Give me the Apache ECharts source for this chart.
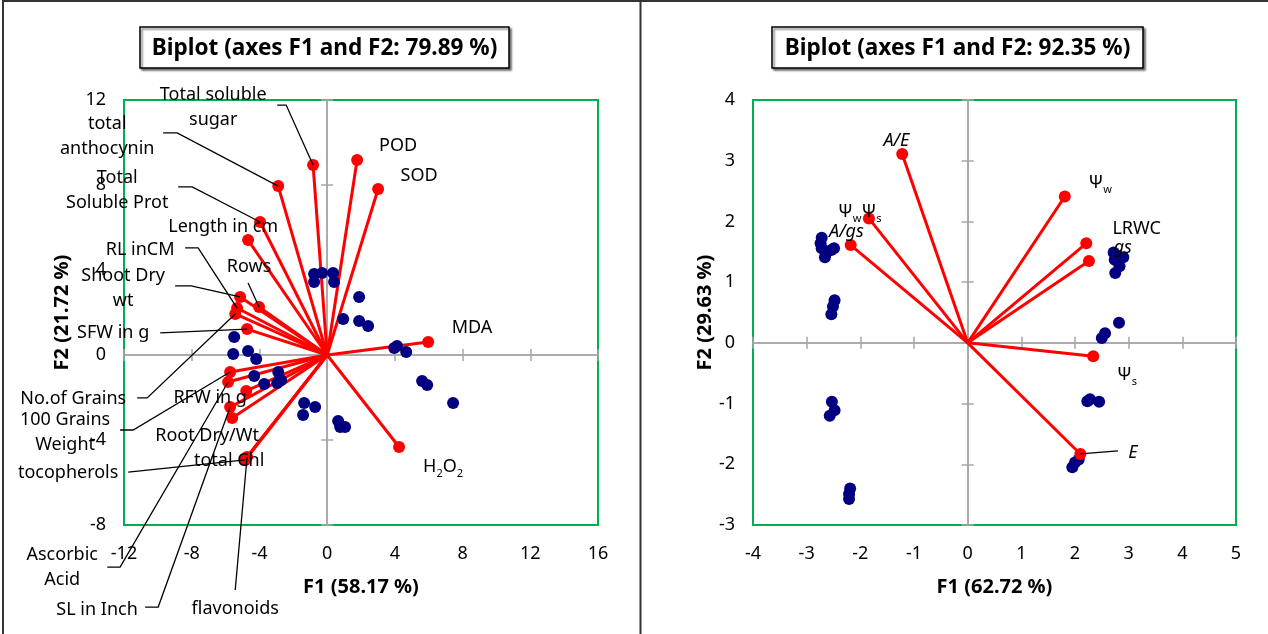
<!DOCTYPE html>
<html>
<head>
<meta charset="utf-8">
<title>biplot</title>
<script src="https://cdn.jsdelivr.net/npm/echarts@6/dist/echarts.min.js"></script>
<style>
    html, body { margin: 0; padding: 0; background: #fff; }
    #main { width: 1268px; height: 634px; }
</style>
</head>
<body>
<div id="main"></div>
<script>
// ---------- left biplot (F1 58.17 %, F2 21.72 %) ----------
var varNamesL = ['Total soluble\nsugar', 'total\nanthocynin', 'Total\nSoluble Prot', 'Length in cm', 'RL inCM',
    'Shoot Dry\nwt', 'Rows', 'SFW in g', 'No.of Grains', '100 Grains\nWeight', 'RFW in g', 'Root Dry/Wt',
    'total Chl', 'tocopherols', 'Ascorbic\nAcid', 'SL in Inch', 'flavonoids', 'POD', 'SOD', 'MDA', 'H{sub|2}O{sub|2}'];
var varF1L = [-0.83, -2.89, -3.96, -4.67, -5.32, -5.14, -4.02, -4.73, -5.43, -5.73, -4.78, -5.61,
    -4.78, -4.84, -5.85, -5.73, -4.73, 1.77, 3.01, 5.97, 4.25];
var varF2L = [8.94, 7.95, 6.26, 5.41, 2.21, 2.73, 2.26, 1.22, 1.93, -0.80, -1.69, -2.96,
    -4.85, -4.94, -1.27, -2.45, -4.80, 9.18, 7.81, 0.61, -4.33];
var obsF1L = [-0.77, -0.30, 0.35, -0.77, 0.41, 1.89, 0.95, 1.89, 2.42, 3.96, 4.13, 4.67, 5.61, 5.91, 7.44,
    0.65, 0.77, 1.06, -1.36, -0.71, -1.42, -5.49, -5.55, -4.67, -4.19, -4.31, -3.72, -2.89, -2.72, -2.95];
var obsF2L = [3.81, 3.86, 3.86, 3.44, 3.44, 2.73, 1.69, 1.60, 1.36, 0.33, 0.42, 0.14, -1.22, -1.41, -2.26,
    -3.11, -3.39, -3.39, -2.26, -2.45, -2.82, 0.85, 0.05, 0.19, -0.19, -0.99, -1.36, -0.80, -1.18, -1.32];

// ---------- right biplot (F1 62.72 %, F2 29.63 %) ----------
var varNamesR = ['A/E', 'Ψ{sub|w}Ψ{sub|s}', 'A/gs', 'Ψ{sub|w}', 'LRWC', 'gs', 'Ψ{sub|s}', 'E'];
var varItalicR = [true, false, true, false, false, true, false, true];
var varF1R = [-1.22, -1.84, -2.18, 1.81, 2.21, 2.26, 2.34, 2.10];
var varF2R = [3.11, 2.05, 1.61, 2.41, 1.64, 1.35, -0.22, -1.83];
var obsF1R = [-2.72, -2.74, -2.72, -2.64, -2.66, -2.54, -2.49, -2.48, -2.51, -2.54, -2.53, -2.48, -2.57,
    -2.19, -2.21, -2.21, 2.72, 2.74, 2.90, 2.83, 2.75, 2.76, 2.82, 2.56, 2.50, 2.23, 2.28, 2.45, 1.95, 2.00, 2.07];
var obsF2R = [1.73, 1.64, 1.56, 1.47, 1.41, 1.53, 1.56, 0.70, 0.60, 0.47, -0.97, -1.11, -1.20,
    -2.40, -2.49, -2.57, 1.49, 1.37, 1.41, 1.26, 1.15, 1.45, 0.33, 0.16, 0.08, -0.96, -0.93, -0.97, -2.05, -1.97, -1.92];

// label placement (layout only, axis units) and leader line bends
var labelPosL = [[-6.73, 11.67], [-12.99, 10.31], [-12.40, 7.76], [-6.14, 6.02], [-11.05, 4.94],
    [-12.05, 3.15], [-4.61, 4.14], [-12.64, 1.04], [-15.0, -2.07], [-15.48, -3.62], [-6.91, -2.02],
    [-7.09, -3.81], [-5.79, -4.99], [-15.30, -5.55], [-15.65, -9.98], [-13.59, -12.0], [-5.43, -11.95],
    [4.19, 9.84], [5.43, 8.42], [8.56, 1.27], [6.85, -5.27]];
var leaderL = [[[-2.95, 11.76], [-2.42, 11.76]], [[-9.69, 10.45], [-8.86, 10.45]], [[-8.80, 7.91], [-7.97, 7.91]],
    null, [[-8.39, 5.04], [-7.62, 5.04]], [[-8.98, 3.25], [-8.03, 3.25]], [[-4.67, 3.39]], [[-9.86, 1.04]],
    [[-11.22, -2.02], [-10.63, -2.02]], [[-12.23, -3.53], [-11.46, -3.53]], null, null, null, [[-11.75, -5.51]],
    [[-12.99, -9.98], [-12.23, -9.98]], [[-10.75, -11.86], [-9.98, -11.86]], [[-5.43, -11.06]], null, null, null, null];
var labelPosR = [[-1.33, 3.32], [-2.01, 2.16], [-2.26, 1.82], [2.47, 2.63], [3.15, 1.87], [2.89, 1.56], [2.97, -0.52], [3.08, -1.81]];
var leaderR = [null, null, null, null, null, null, null, [[2.8, -1.78]]];

var FONT = 'Noto Sans';
var grey = '#a6a6a6';

function axisSet(g, pos, min, max, step, name, nameGap, labelMargin) {
    var isX = pos === 'bottom';
    var base = { gridIndex: g, type: 'value', min: min, max: max, interval: step, position: pos, splitLine: { show: false } };
    var lab = Object.assign({}, base, {
        axisLine: { show: false, onZero: false },
        axisTick: { show: false },
        axisLabel: { margin: labelMargin, fontSize: 18, color: '#000', fontFamily: FONT },
        name: name, nameLocation: 'middle', nameGap: nameGap,
        nameRotate: isX ? 0 : 90,
        nameTextStyle: { fontWeight: 'bold', fontSize: 20, color: '#000', fontFamily: FONT }
    });
    var out = Object.assign({}, base, {
        axisLine: { show: true, onZero: true, lineStyle: { color: grey, width: 1.5 } },
        axisTick: { show: true, inside: false, length: 6, lineStyle: { color: grey, width: 1.5 } },
        axisLabel: { show: false }
    });
    var inn = Object.assign({}, out, {
        axisTick: { show: true, inside: true, length: 6, lineStyle: { color: grey, width: 1.5 } }
    });
    return [lab, out, inn];
}

function vectors(xs, ys, xi, yi) {
    return {
        type: 'lines', coordinateSystem: 'cartesian2d', xAxisIndex: xi, yAxisIndex: yi, z: 2, silent: true,
        lineStyle: { color: '#ff0000', width: 3, opacity: 1 },
        data: xs.map(function (x, i) { return { coords: [[0, 0], [x, ys[i]]] }; })
    };
}
function dots(xs, ys, xi, yi, color, z) {
    return {
        type: 'scatter', xAxisIndex: xi, yAxisIndex: yi, z: z, symbolSize: 12, silent: true,
        itemStyle: { color: color, opacity: 1 },
        data: xs.map(function (x, i) { return [x, ys[i]]; })
    };
}

var chart = echarts.init(document.getElementById('main'));
chart.setOption({
    animation: false,
    backgroundColor: '#fff',
    grid: [
        { left: 124, top: 100, width: 474, height: 425, show: true, borderColor: '#00b050', borderWidth: 2, backgroundColor: 'transparent' },
        { left: 753, top: 100, width: 483, height: 425, show: true, borderColor: '#00b050', borderWidth: 2, backgroundColor: 'transparent' }
    ],
    xAxis: axisSet(0, 'bottom', -12, 16, 4, 'F1 (58.17 %)', 52, 20)
        .concat(axisSet(1, 'bottom', -4, 5, 1, 'F1 (62.72 %)', 52, 20)),
    yAxis: axisSet(0, 'left', -8, 12, 4, 'F2 (21.72 %)', 52, 18)
        .concat(axisSet(1, 'left', -3, 4, 1, 'F2 (29.63 %)', 38, 18)),
    series: [
        vectors(varF1L, varF2L, 0, 0),
        dots(obsF1L, obsF2L, 0, 0, '#000080', 3),
        dots(varF1L, varF2L, 0, 0, '#ff0000', 4),
        vectors(varF1R, varF2R, 3, 3),
        dots(obsF1R, obsF2R, 3, 3, '#000080', 3),
        dots(varF1R, varF2R, 3, 3, '#ff0000', 4)
    ]
});

// frames, titles, variable labels and leader lines
var graphics = [
    { type: 'line', shape: { x1: 3, y1: 1, x2: 1268, y2: 1 }, style: { stroke: '#333', lineWidth: 2 } },
    { type: 'line', shape: { x1: 3, y1: 0, x2: 3, y2: 634 }, style: { stroke: '#333', lineWidth: 2 } },
    { type: 'line', shape: { x1: 640.5, y1: 0, x2: 640.5, y2: 634 }, style: { stroke: '#333', lineWidth: 2 } }
];
function titleBox(x, w, text) {
    graphics.push({
        type: 'rect', shape: { x: x, y: 27, width: w, height: 41 },
        style: { fill: '#fff', stroke: '#000', lineWidth: 1.5, shadowBlur: 2, shadowOffsetX: 2, shadowOffsetY: 2, shadowColor: 'rgba(0,0,0,0.5)' }
    });
    // condensed bold look
    graphics.push({
        type: 'text', x: x + w / 2, y: 48, scaleX: 0.94,
        style: { text: text, fill: '#000', fontSize: 24, fontWeight: 'bold', fontFamily: FONT, align: 'center', verticalAlign: 'middle' }
    });
}
titleBox(140, 369, 'Biplot (axes F1 and F2: 79.89 %)');
titleBox(772, 371, 'Biplot (axes F1 and F2: 92.35 %)');

function addLabels(g, names, xs, ys, pos, leaders, italic) {
    names.forEach(function (name, i) {
        var p = chart.convertToPixel({ gridIndex: g }, pos[i]);
        graphics.push({
            type: 'text', x: p[0], y: p[1], z: 10,
            style: {
                text: name, fill: '#000', fontSize: 18, fontFamily: FONT, lineHeight: 25,
                fontStyle: italic && italic[i] ? 'italic' : 'normal',
                align: 'center', verticalAlign: 'middle',
                rich: { sub: { fontSize: 11, fontFamily: FONT, verticalAlign: 'bottom', fill: '#000' } }
            }
        });
        if (leaders[i]) {
            var pts = leaders[i].concat([[xs[i], ys[i]]]).map(function (q) {
                return chart.convertToPixel({ gridIndex: g }, q);
            });
            graphics.push({ type: 'polyline', z: 9, shape: { points: pts }, style: { stroke: '#000', lineWidth: 1.3, fill: null } });
        }
    });
}
addLabels(0, varNamesL, varF1L, varF2L, labelPosL, leaderL, null);
addLabels(1, varNamesR, varF1R, varF2R, labelPosR, leaderR, varItalicR);

chart.setOption({ graphic: graphics });
</script>
</body>
</html>
